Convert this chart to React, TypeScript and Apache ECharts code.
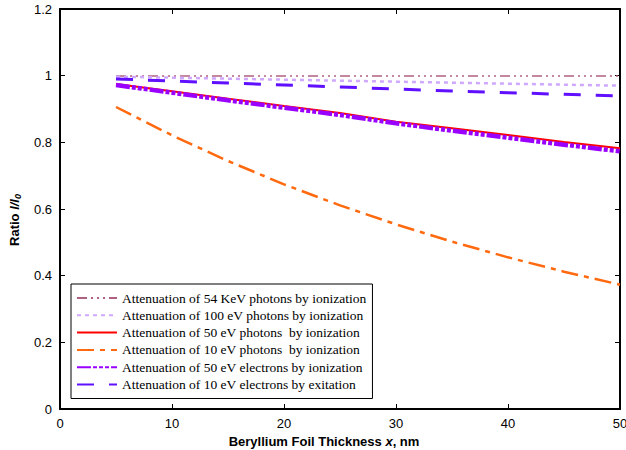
import React, { useEffect, useRef } from "react";
import * as echarts from "echarts";

const xValues = [5, 10, 15, 20, 25, 30, 35, 40, 45, 50];
const kev54Photons = [0.999, 0.999, 0.999, 0.999, 0.999, 0.999, 0.999, 0.999, 0.999, 0.999];
const ev100Photons = [0.997, 0.994, 0.991, 0.988, 0.985, 0.982, 0.979, 0.976, 0.973, 0.97];
const ev50Photons = [0.975, 0.953, 0.931, 0.909, 0.888, 0.862, 0.842, 0.822, 0.801, 0.782];
const ev10Photons = [0.906, 0.821, 0.744, 0.674, 0.611, 0.554, 0.502, 0.455, 0.412, 0.373];
const ev50Electrons = [0.972, 0.949, 0.926, 0.904, 0.882, 0.857, 0.835, 0.814, 0.793, 0.773];
const ev10Electrons = [0.99, 0.984, 0.978, 0.972, 0.966, 0.96, 0.954, 0.949, 0.944, 0.939];

const seriesNames = [
  "Attenuation of 54 KeV photons by ionization",
  "Attenuation of 100 eV photons by ionization",
  "Attenuation of 50 eV photons  by ionization",
  "Attenuation of 10 eV photons  by ionization",
  "Attenuation of 50 eV electrons by ionization",
  "Attenuation of 10 eV electrons by exitation",
];

const pair = (ys: number[]) => xValues.map((x, i) => [x, ys[i]]);

export default function App() {
  const ref = useRef<HTMLDivElement>(null);
  useEffect(() => {
    if (!ref.current) return;
    document.body.style.margin = "0";
    document.body.style.overflow = "hidden";
    const chart = echarts.init(ref.current, undefined, { renderer: "svg" });
    const axisFont = { fontFamily: "Liberation Sans, Arial", fontSize: 13, color: "#000" };
    const mk = (name: string, data: number[], color: string, width: number, type: any, z = 2) => ({
      type: "line",
      name,
      data: pair(data),
      showSymbol: false,
      symbol: "none",
      z,
      lineStyle: { color, width, type },
      itemStyle: { color },
    });
    const frameAxis = {
      axisLine: { show: true, onZero: false, lineStyle: { color: "#000", width: 2 } },
      axisTick: { show: true, inside: true, length: 5, lineStyle: { color: "#000", width: 1 } },
      splitLine: { show: false },
    };
    chart.setOption({
      animation: false,
      backgroundColor: "#fff",
      grid: { left: 60, right: 6, top: 9, bottom: 41, containLabel: false, outerBoundsMode: "none" },
      legend: {
        orient: "vertical",
        left: 71,
        top: 284,
        width: 297,
        padding: [7, 6, 7, 5],
        itemWidth: 40,
        itemHeight: 12,
        itemGap: 3.3,
        borderColor: "#000",
        borderWidth: 1,
        backgroundColor: "#fff",
        itemStyle: { opacity: 0 },
        textStyle: { fontFamily: "Liberation Serif, Times New Roman", fontSize: 13.5, lineHeight: 12, color: "#000" },
        data: seriesNames,
        z: 10,
      },
      xAxis: [
        {
          type: "value",
          min: 0,
          max: 50,
          interval: 10,
          name: "{b|Beryllium Foil Thickness }{bi|x}{b|, nm}",
          nameLocation: "middle",
          nameGap: 24,
          nameTextStyle: {
            padding: [0, 32, 0, 0],
            rich: {
              b: { fontFamily: "Liberation Sans, Arial", fontSize: 13, fontWeight: "bold", color: "#000" },
              bi: { fontFamily: "Liberation Sans, Arial", fontSize: 13, fontWeight: "bold", fontStyle: "italic", color: "#000" },
            },
          },
          ...frameAxis,
          axisLabel: { ...axisFont, margin: 8 },
        },
        {
          type: "value",
          position: "top",
          min: 0,
          max: 50,
          interval: 10,
          ...frameAxis,
          axisLabel: { show: false },
        },
      ],
      yAxis: [
        {
          type: "value",
          min: 0,
          max: 1.2,
          interval: 0.2,
          name: "{b|Ratio }{bi|I/I}{sub|0}",
          nameLocation: "middle",
          nameGap: 38,
          nameRotate: 90,
          nameTextStyle: {
            padding: [0, 22, 0, 0],
            rich: {
              b: { fontFamily: "Liberation Sans, Arial", fontSize: 13, fontWeight: "bold", color: "#000" },
              bi: { fontFamily: "Liberation Sans, Arial", fontSize: 13, fontWeight: "bold", fontStyle: "italic", color: "#000" },
              sub: { fontFamily: "Liberation Sans, Arial", fontSize: 9, fontWeight: "bold", fontStyle: "italic", color: "#000", padding: [6, 0, 0, 0] },
            },
          },
          ...frameAxis,
          axisLabel: { ...axisFont, margin: 8, formatter: (v: number) => String(Math.round(v * 10) / 10) },
        },
        {
          type: "value",
          position: "right",
          min: 0,
          max: 1.2,
          interval: 0.2,
          ...frameAxis,
          axisLabel: { show: false },
        },
      ],
      series: [
        mk(seriesNames[0], kev54Photons, "#b06080", 1.3, [10, 4, 2, 4, 2, 4, 2, 4]),
        mk(seriesNames[1], ev100Photons, "#d0a8ff", 2.5, [4, 4]),
        mk(seriesNames[2], ev50Photons, "#ff0000", 2, "solid"),
        mk(seriesNames[3], ev10Photons, "#ff6a10", 2.5, [17, 6, 5, 6]),
        mk(seriesNames[4], ev50Electrons, "#9a00ff", 4.5, [14, 2, 4, 2, 4, 2, 4, 2]),
        mk(seriesNames[5], ev10Electrons, "#6010ff", 3, [17, 15]),
      ],
    });
    return () => chart.dispose();
  }, []);
  return <div ref={ref} style={{ width: 626, height: 450 }} />;
}
